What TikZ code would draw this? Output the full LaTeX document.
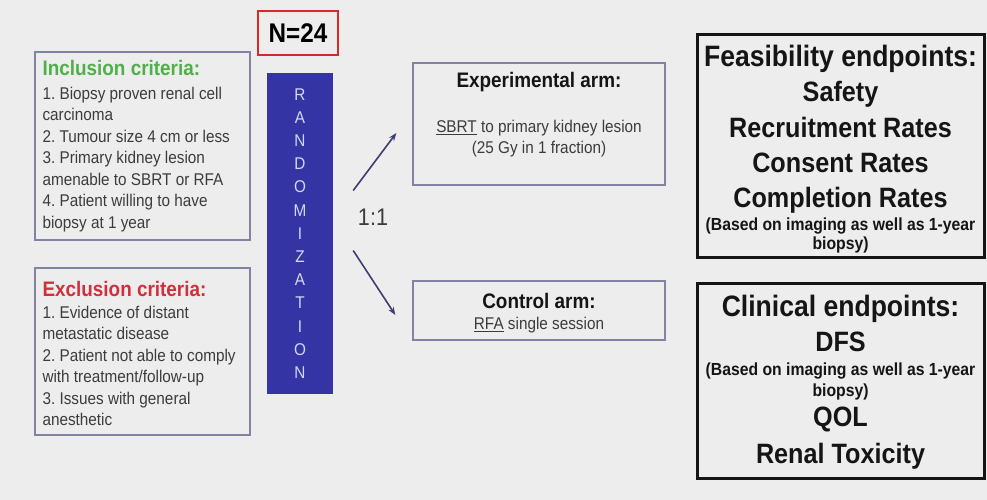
\documentclass[tikz,border=0pt]{standalone}
\usepackage{fontspec}
\setmainfont{Liberation Sans}[FakeStretch=0.9]
\usetikzlibrary{arrows.meta}

\definecolor{bggray}{HTML}{EDEDED}
\definecolor{boxline}{HTML}{8282A2}
\definecolor{randblue}{HTML}{3434A4}
\definecolor{randtext}{HTML}{D4D8F0}
\definecolor{incgreen}{HTML}{4FB04A}
\definecolor{excred}{HTML}{D0303C}
\definecolor{nred}{HTML}{D42A2A}
\definecolor{bodygray}{HTML}{3C3C3C}
\definecolor{titleblack}{HTML}{151515}
\definecolor{arrowblue}{HTML}{3E3E72}

\newcommand{\setfs}[2]{\fontsize{#1}{#2}\selectfont}

\begin{document}
\frenchspacing
\begin{tikzpicture}[x=1pt,y=-1pt,
    critbox/.style={draw=boxline, line width=1.3pt, minimum width=215pt, inner sep=0pt},
    crittext/.style={anchor=west, inner sep=0pt, align=left, text=bodygray,
      font=\setfs{17}{21.5}},
    randbox/.style={fill=randblue, minimum width=66pt, minimum height=321pt,
      inner sep=0pt, align=center, text=randtext, font=\setfs{17}{23.2}},
    armbox/.style={draw=boxline, line width=1.3pt, minimum width=252pt, inner sep=0pt},
    armtitle/.style={font=\bfseries\setfs{21}{24}, text=titleblack},
    armtext/.style={font=\setfs{17}{21}, text=bodygray, align=center},
    endbox/.style={draw=titleblack, line width=3pt, minimum width=287pt, inner sep=0pt},
    endtitle/.style={anchor=base, font=\bfseries\setfs{29.5}{32}, text=titleblack},
    enditem/.style={anchor=base, font=\bfseries\setfs{28}{30}, text=titleblack},
    endnote/.style={anchor=base, font=\bfseries\setfs{17.5}{20}, text=titleblack},
    splitarrow/.style={draw=arrowblue, line width=1.6pt,
      -{Stealth[length=8pt,width=6pt]}}]

  \useasboundingbox (0,0) rectangle (987,500);
  \fill[bggray] (0,0) rectangle (987,500);

  % sample size and randomization
  \node[draw=nred, line width=2.5pt, minimum width=80pt, minimum height=44pt,
    font=\bfseries\setfs{27}{30}] (nbox) at (298,33) {N=24};
  \node[randbox] (rand) at (300,233.5) {R\\A\\N\\D\\O\\M\\I\\Z\\A\\T\\I\\O\\N};

  % criteria
  \node[critbox, minimum height=188pt] (incl) at (142.5,146) {};
  \node[crittext] (incltext) at ([xshift=8pt]incl.west)
    {{\color{incgreen}\bfseries\setfs{21}{25}Inclusion criteria:}\\[2pt]
     1. Biopsy proven renal cell\\
     carcinoma\\
     2. Tumour size 4 cm or less\\
     3. Primary kidney lesion\\
     amenable to SBRT or RFA\\
     4. Patient willing  to have\\
     biopsy at 1 year};
  \node[critbox, minimum height=167pt] (excl) at (142.5,351.5) {};
  \node[crittext] (excltext) at ([xshift=8pt,yshift=-2pt]excl.west)
    {{\color{excred}\bfseries\setfs{21}{25}Exclusion criteria:}\\
     1. Evidence of distant\\
     metastatic disease\\
     2. Patient not able to comply\\
     with treatment/follow-up\\
     3. Issues with general\\
     anesthetic};

  % arms
  \node[armbox, minimum height=122pt] (exp) at (539,124) {};
  \node[armtitle] (exptitle) at (539,82) {Experimental arm:};
  \node[armtext] (expdesc) at (539,139)
    {\underline{SBRT} to primary kidney lesion\\(25 Gy in 1 fraction)};

  \node[armbox, minimum height=59pt] (ctrl) at (539,310.5) {};
  \node[armtitle] (ctrltitle) at (539,301) {Control arm:};
  \node[armtext] (ctrldesc) at (539,325) {\underline{RFA} single session};

  \node[font=\setfs{24}{26}, text=bodygray] (ratio) at (373,217) {1:1};
  \draw[splitarrow] ([shift={(20,-43)}]rand.east) -- ([shift={(-16,9)}]exp.west);
  \draw[splitarrow] ([shift={(20,17)}]rand.east) -- ([shift={(-17,4.5)}]ctrl.west);

  % endpoints
  \node[endbox, minimum height=222pt] (feas) at (840.5,146) {};
  \node[endtitle] (feastitle) at (840.5,67) {Feasibility endpoints:};
  \node[enditem] (safety) at (840.5,102) {Safety};
  \node[enditem] (recruit) at (840.5,137) {Recruitment Rates};
  \node[enditem] (consent) at (840.5,172) {Consent Rates};
  \node[enditem] (complete) at (840.5,207) {Completion Rates};
  \node[endnote] (feasnote) at (840.5,230) {(Based on imaging as well as 1-year};
  \node[endnote] (feasnoteb) at (840.5,249) {biopsy)};

  \node[endbox, minimum height=195pt] (clin) at (840.5,380.5) {};
  \node[endtitle] (clintitle) at (840.5,316.5) {Clinical endpoints:};
  \node[enditem] (dfs) at (840.5,351.5) {DFS};
  \node[endnote] (dfsnote) at (840.5,375) {(Based on imaging as well as 1-year};
  \node[endnote] (dfsnoteb) at (840.5,396.5) {biopsy)};
  \node[enditem] (qol) at (840.5,426.5) {QOL};
  \node[enditem] (renal) at (840.5,463) {Renal Toxicity};
\end{tikzpicture}
\end{document}
